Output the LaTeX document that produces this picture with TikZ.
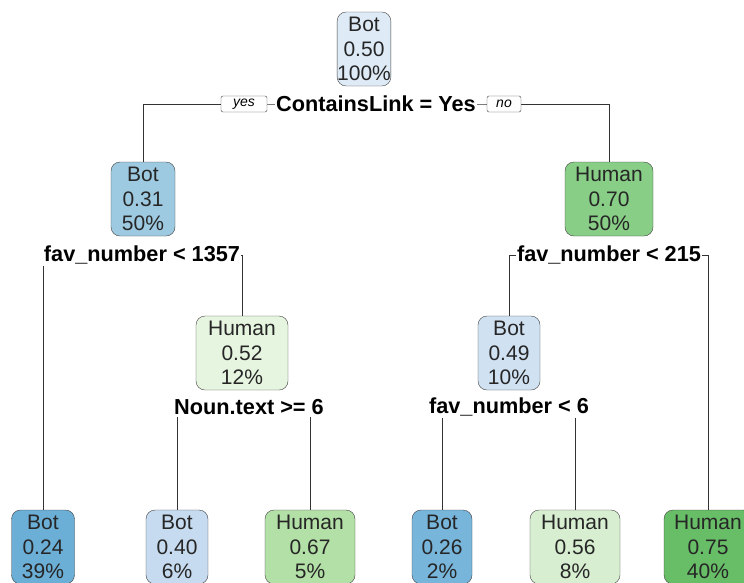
\documentclass[tikz,border=0pt]{standalone}
\usepackage{fontspec}
\setmainfont{Liberation Sans}
\usetikzlibrary{positioning, backgrounds}

% fill colours of the tree boxes
\definecolor{botA}{HTML}{DEEBF7}
\definecolor{botB}{HTML}{9ECAE1}
\definecolor{botC}{HTML}{D0E1F2}
\definecolor{botD}{HTML}{6BAED6}
\definecolor{botE}{HTML}{C6DBEF}
\definecolor{botF}{HTML}{77B5DB}
\definecolor{humA}{HTML}{88CE86}
\definecolor{humB}{HTML}{E5F5E0}
\definecolor{humC}{HTML}{B3E0A6}
\definecolor{humD}{HTML}{D7EFD0}
\definecolor{humE}{HTML}{68BD67}

\begin{document}
\begin{tikzpicture}[x=1pt, y=-1pt,
  treebox/.style={draw=black!75, rounded corners=9pt, align=center, inner sep=0pt,
    minimum height=74pt, text=black!85, font=\fontsize{21}{24.5}\selectfont},
  splitlab/.style={fill=white, inner xsep=1pt, inner ysep=2pt, text=black,
    font=\fontsize{21.7}{24}\selectfont\bfseries},
  yesno/.style={draw=black!75, fill=white, rounded corners=2pt, inner sep=0pt,
    minimum height=16pt, font=\fontsize{14}{14}\selectfont\itshape},
  edge/.style={draw=black!80, line width=0.9pt}]
  \useasboundingbox (0,0) rectangle (744,582);
  \clip (0,0) rectangle (744,582);

  % root and inner nodes
  \node[treebox, fill=botA, minimum width=52pt] (root) at (364,49) {Bot\\0.50\\100\%};
  \node[treebox, fill=botB, minimum width=64pt] (n1) at (143,199) {Bot\\0.31\\50\%};
  \node[treebox, fill=humA, minimum width=88pt] (n2) at (609,199) {Human\\0.70\\50\%};
  \node[treebox, fill=humB, minimum width=92pt] (n3) at (242,353) {Human\\0.52\\12\%};
  \node[treebox, fill=botC, minimum width=62pt] (n4) at (509,353) {Bot\\0.49\\10\%};

  % leaves
  \foreach \i/\xpos/\bw/\col/\cls/\prob/\pct in
    {1/43/63/botD/Bot/0.24/39, 2/177/62/botE/Bot/0.40/6, 3/310/90/humC/Human/0.67/5,
     4/442/60/botF/Bot/0.26/2, 5/575/90/humD/Human/0.56/8, 6/708/88/humE/Human/0.75/40} {
    \node[treebox, fill=\col, minimum width=\bw pt] (l\i) at (\xpos,547) {\cls\\\prob\\\pct\%};
  }

  % split labels
  \node[splitlab] (s0) at (376,104) {ContainsLink = Yes};
  \node[splitlab] (s1) at (142,255) {fav\_number < 1357};
  \node[splitlab] (s2) at (609,255) {fav\_number < 215};
  \node[splitlab] (s3) at (249,407) {Noun.text >= 6};
  \node[splitlab] (s4) at (509,407) {fav\_number < 6};
  \node[yesno, minimum width=46pt] (yes) at (244,104) {yes};
  \node[yesno, minimum width=34pt] (no) at (504,104) {no};

  % branches
  \begin{scope}[on background layer]
    \draw[edge] (n1.north) |- (s0.center) -| (n2.north);
    \draw[edge] (l1.north) |- (s1.center) -| (n3.north);
    \draw[edge] (n4.north) |- (s2.center) -| (l6.north);
    \draw[edge] (l2.north) |- (s3.center) -| (l3.north);
    \draw[edge] (l4.north) |- (s4.center) -| (l5.north);
  \end{scope}
\end{tikzpicture}
\end{document}
